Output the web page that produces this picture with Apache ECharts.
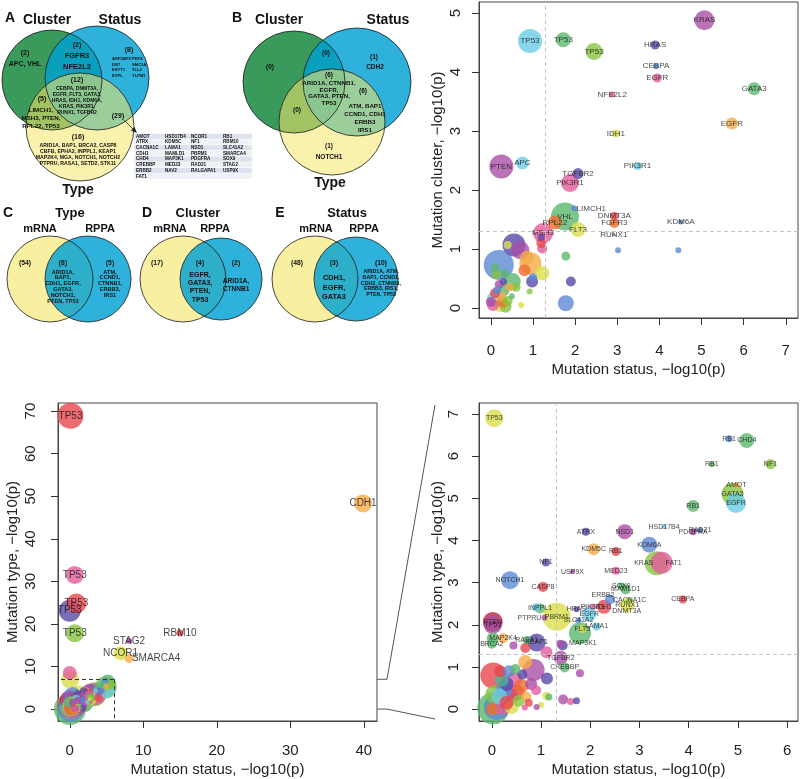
<!DOCTYPE html>
<html><head><meta charset="utf-8">
<script src="https://cdn.jsdelivr.net/npm/echarts@6.0.0/dist/echarts.min.js"></script>
<style>html,body{margin:0;padding:0;background:#fff}#c{width:800px;height:779px}</style>
</head><body><div id="c"></div>
<script>
// ---------------- DATA ----------------
// Venn A (Cluster / Status / Type)
const vennA_clusterOnly = ["APC","VHL"];
const vennA_statusOnly = ["ARFGEF2","DST","ESYT1","EVPL","PEP4","SMC3A","TLL2","YLPM1"];
const vennA_clusterStatus = ["FGFR3","NFE2L2"];
const vennA_all = ["CEBPA","DNMT3A","EGFR","FLT3","GATA3","HRAS","IDH1","KDM6A","KRAS","PIK3R1","RUNX1","TGFBR2"];
const vennA_clusterType = ["LIMCH1","MSH3","PTEN","RPL22","TP53"];
const vennA_typeOnly = ["ARID1A","BAP1","BRCA2","CASP8","CBFB","EPHA2","INPPL1","KEAP1","MAP2K4","MGA","NOTCH1","NOTCH2","PTPRU","RASA1","SETD2","STK11"];
const vennA_statusType = ["AMOT","ATRX","CACNA1C","CDH1","CHD4","CREBBP","ERBB2","FAT1",
  "HSD17B4","KDM5C","LAMA1","MAMLD1","MAP3K1","MED23","NAV2",
  "NCOR1","NF1","NSD1","PBRM1","PDGFRA","RAD21","RALGAPA1",
  "RB1","RBM10","SLC41A2","SMARCA4","SOX9","STAG2","USP9X"];
// Venn B
const vennB_clusterOnly = [];
const vennB_clusterStatus = [];
const vennB_statusOnly = ["CDH2"];
const vennB_all = ["ARID1A","CTNNB1","EGFR","GATA3","PTEN","TP53"];
const vennB_statusType = ["ATM","BAP1","CCND1","CDH1","ERBB3","IRS1"];
const vennB_clusterType = [];
const vennB_typeOnly = ["NOTCH1"];
// Venn C/D/E (mRNA vs RPPA)
const vennTitles = ["Type","Cluster","Status"];
const mrnaOnlyCounts = [54,17,48];
const vennC_both = ["ARID1A","BAP1","CDH1","EGFR","GATA3","NOTCH1","PTEN","TP53"];
const vennC_rppa = ["ATM","CCND1","CTNNB1","ERBB3","IRS1"];
const vennD_both = ["EGFR","GATA3","PTEN","TP53"];
const vennD_rppa = ["ARID1A","CTNNB1"];
const vennE_both = ["CDH1","EGFR","GATA3"];
const vennE_rppa = ["ARID1A","ATM","BAP1","CCND1","CDH2","CTNNB1","ERBB3","IRS1","PTEN","TP53"];

// Scatter: [gene, status -log10p, cluster/type -log10p, bubble size, colour group]
const clusterPoints = [
  ["KRAS",5.07,4.88,20,2],["TP53",0.93,4.53,24,5],["TP53",1.72,4.55,15,6],["TP53",2.45,4.35,17,7],
  ["HRAS",3.90,4.46,9,3],["CEBPA",3.92,4.10,6,4],["EGFR",3.95,3.90,9,1],["NFE2L2",2.88,3.62,6,1],
  ["GATA3",6.25,3.72,13,6],["EGFR",5.72,3.13,12,9],["IDH1",2.97,2.96,8,8],["PTEN",0.25,2.40,24,2],
  ["APC",0.75,2.46,13,5],["TGFBR2",2.07,2.28,11,3],["PIK3R1",1.88,2.12,18,1],["PIK3R1",3.48,2.41,8,5],
  ["LIMCH1",1.98,1.69,6,4],["VHL",1.76,1.55,28,6],["RPL22",1.52,1.45,14,10],["MSH3",1.24,1.27,20,1],
  ["FLT3",2.07,1.33,15,8],["DNMT3A",2.93,1.56,8,0],["FGFR3",2.93,1.44,10,10],["RUNX1",2.92,1.24,3,4],
  ["KDM6A",4.51,1.46,5,4],
  ["",3.02,0.98,6,4],["",4.45,0.98,6,4],["",1.78,0.88,9,6],["",1.90,0.45,10,3],["",1.78,0.08,16,4],
  ["",0.19,0.73,30,4],["",0.55,1.07,23,3],["",0.70,0.98,18,2],["",0.40,1.07,8,8],["",0.86,0.85,14,9],
  ["",0.94,0.76,22,9],["",0.80,0.64,12,10],["",1.22,0.59,14,8],["",1.22,1.01,10,1],["",1.20,1.10,10,0],
  ["",1.20,1.20,7,3],["",0.98,0.45,12,3],["",0.51,0.45,17,6],["",0.33,0.59,8,6],["",0.13,0.57,10,7],
  ["",0.92,0.28,6,7],["",0.72,0.05,6,8],["",1.00,0.52,8,4],["",0.10,0.15,16,5],["",0.22,0.05,14,8],
  ["",0.05,0.05,12,1],["",0.30,0.30,12,6],["",0.25,0.20,10,9],["",0.40,0.12,10,7],["",0.15,0.30,8,4],
  ["",0.35,0.02,12,7],["",0.50,0.20,6,6],["",0.45,0.35,8,9],["",0.20,0.40,9,2],["",0.10,0.25,10,0],
  ["",0.30,0.45,7,3],["",0.00,0.10,10,2],["",0.28,0.10,11,10],["",0.60,0.35,9,7],["",0.10,0.68,9,6]
];
const typePoints = [
  ["TP53",0.05,6.90,18,8],["RB1",4.82,6.41,7,4],["CHD4",5.18,6.37,15,6],["RB1",4.47,5.81,6,6],
  ["NF1",5.66,5.81,10,7],["AMOT",4.97,5.31,6,9],["GATA3",4.89,5.10,22,7],["EGFR",4.96,4.89,20,5],
  ["RB1",4.09,4.82,12,6],["HSD17B4",3.50,4.33,5,5],["PDGFRA",4.09,4.21,7,2],["RAD21",4.23,4.24,6,4],
  ["ATRX",1.91,4.21,8,3],["NSD1",2.70,4.21,15,2],["KDM5C",2.07,3.79,12,9],["RB1",2.52,3.74,9,0],
  ["KDM6A",3.20,3.90,16,4],["KRAS",3.35,3.46,24,7],["FAT1",3.45,3.47,22,1],["NF1",1.10,3.48,8,3],
  ["USP9X",1.64,3.26,5,2],["MED23",2.52,3.28,8,1],["NOTCH1",0.37,3.06,18,4],["CASP8",1.04,2.90,10,0],
  ["SOX9",2.63,2.92,7,6],["MAMLD1",2.72,2.84,10,6],["ERBB2",2.40,2.60,10,4],["CACNA1C",2.80,2.58,6,7],
  ["RUNX1",2.75,2.47,14,8],["DNMT3A",2.74,2.33,4,8],["CEBPA",3.88,2.60,8,0],["IDH1",2.28,2.43,14,0],
  ["PIK3R1",2.05,2.43,6,1],["HRAS",1.72,2.37,6,3],["EGFR",1.98,2.25,14,5],["SLC41A2",1.76,2.11,6,4],
  ["LAMA1",2.13,1.96,8,5],["FLT3",1.84,1.90,8,8],["MAP3K1",1.79,1.80,22,6],["PBRM1",1.32,2.19,28,8],
  ["PTPRU",1.07,2.17,6,2],["INPPL1",0.98,2.39,10,6],["",0.90,2.42,8,5],["PTEN",0.02,2.07,20,12],
  ["TP53",0.02,2.00,18,2],["MAP2K4",0.23,1.68,10,9],["",0.02,1.68,12,6],["RASA1",0.71,1.64,8,6],
  ["KEAP1",0.91,1.58,18,3],["BRCA2",0.00,1.55,10,6],
  ["",0.44,1.51,8,2],["",0.68,1.45,10,0],["",1.44,1.51,10,3],["",1.39,1.55,8,2],
  ["TGFBR2",1.40,1.22,14,2],["CREBBP",1.48,0.99,10,6],["",1.11,1.35,12,1],["",1.79,0.85,8,2],
  ["",1.45,0.23,10,2],["",1.60,0.18,7,1],["",1.72,0.20,7,3],["",1.16,0.29,7,6],["",1.11,0.31,8,8],
  ["",1.00,0.10,6,8],["",0.91,0.05,6,2],["",0.67,0.04,6,1],
  ["",0.03,0.80,26,0],["",0.85,0.93,22,2],["",1.12,0.73,12,3],["",0.68,1.12,14,9],["",0.17,0.90,12,0],
  ["",0.03,0.02,32,6],["",0.10,0.05,26,4],["",0.20,0.10,20,1],["",0.35,0.30,18,2],["",0.50,0.40,16,0],
  ["",0.30,0.60,14,3],["",0.45,0.70,16,1],["",0.60,0.55,14,10],["",0.25,0.45,16,4],["",0.55,0.20,12,7],
  ["",0.40,0.05,14,8],["",0.15,0.30,16,5],["",0.70,0.30,10,9],["",0.80,0.60,12,2],["",0.62,0.82,10,3],
  ["",0.35,0.90,12,4],["",0.05,0.35,18,7],["",0.48,0.95,10,6],["",0.20,0.70,14,11],["",0.90,0.45,10,1],
  ["",0.75,0.15,8,0],["",0.12,0.15,22,11],["",0.00,0.00,12,10],["",0.30,0.15,14,0]
];
const typeOutliers = [
  ["TP53",0.10,68.9,26,0],["CDH1",39.9,48.3,18,9],["TP53",0.68,31.5,18,1],["TP53",0.90,24.8,20,0],
  ["TP53",0.00,23.1,22,3],["TP53",0.68,17.8,18,7],["RBM10",15.0,17.9,7,0],["STAG2",8.07,16.0,6,2],
  ["NCOR1",6.90,13.1,14,8],["SMARCA4",8.07,11.9,9,9],["",0.00,8.5,14,1]
];
const xTicksCluster = [0,1,2,3,4,5,6,7];
const yTicksCluster = [0,1,2,3,4,5];
const xTicksTypeAll = [0,10,20,30,40];
const yTicksTypeAll = [0,10,20,30,40,50,60,70];
const xTicksTypeZoom = [0,1,2,3,4,5,6];
const yTicksTypeZoom = [0,1,2,3,4,5,6,7];
const sigThreshold = 1.3;
const zoomLimits = [6,7];

// ---------------- STYLE ----------------
const FONT = '"Liberation Sans", Arial, sans-serif';
const palette = ['#e8474f','#e35d9c','#a94fa8','#5a4aa8','#5b8ad6','#6ccbe3','#5cb86e','#86c441','#d9df4a','#f5ad48','#ee6e2e','#4fb394','#b8283f'];
const labelOffsets = {
  cluster: {"LIMCH1":[17,0]},
  zoom: {"KRAS":[-13,0],"FAT1":[12,0],"MAP3K1":[3,10],"PTPRU":[-15,0],"ERBB2":[-7,-4]},
  all: {"SMARCA4":[27,0]}
};

const chart = echarts.init(document.getElementById('c'), null, {renderer:'canvas'});

function bubbles(points, gi, fontSize, showLabels, offs){
  const arr = points.slice().sort((a,b)=>b[3]-a[3]);
  return {
    type:'scatter', xAxisIndex:gi, yAxisIndex:gi, symbolSize:v=>v[2], animation:false,
    emphasis:{disabled:true}, silent:true,
    itemStyle:{opacity:0.8},
    label:{formatter:'{b}', fontSize:fontSize, color:'#151515', fontFamily:FONT},
    data: arr.map(p=>({name:p[0], value:[p[1],p[2],p[3]], itemStyle:{color:palette[p[4]]},
      label:{show: showLabels && p[0]!=='', position:'inside', offset:(offs&&offs[p[0]])||[0,0]}}))
  };
}
function xAx(gi,min,max,ticks,margin,gap){
  return {gridIndex:gi,type:'value',min,max,
    axisLine:{show:true,onZero:false,lineStyle:{color:'#444',width:1}},splitLine:{show:false},
    axisTick:{show:true,inside:false,customValues:ticks,length:7,lineStyle:{color:'#333',width:1}},
    axisLabel:{customValues:ticks,fontSize:15,color:'#222',fontFamily:FONT,margin:margin},
    name:'Mutation status, \u2212log10(p)',nameLocation:'middle',nameGap:gap,
    nameTextStyle:{fontSize:15,color:'#222',fontFamily:FONT}};
}
function yAx(gi,min,max,ticks,margin,gap,name){
  return {gridIndex:gi,type:'value',min,max,
    axisLine:{show:true,onZero:false,lineStyle:{color:'#444',width:1}},splitLine:{show:false},
    axisTick:{show:true,inside:false,customValues:ticks,length:7,lineStyle:{color:'#333',width:1}},
    axisLabel:{customValues:ticks,fontSize:15,color:'#222',fontFamily:FONT,margin:margin,rotate:90},
    name:name,nameLocation:'middle',nameGap:gap,
    nameTextStyle:{fontSize:15,color:'#222',fontFamily:FONT}};
}
const gridBase = {show:true,borderColor:'#444',borderWidth:1,containLabel:false};
const refLines = {silent:true,symbol:'none',animation:false,label:{show:false},
  lineStyle:{type:[4,3],color:'#c4c4c4',width:1},
  data:[{xAxis:sigThreshold},{yAxis:sigThreshold}]};

const sClusterSeries = bubbles(clusterPoints,0,8,true,labelOffsets.cluster);
sClusterSeries.markLine = refLines;
const sAllMain = bubbles(typePoints,1,10,false,null);
const sAllOut = bubbles(typeOutliers,1,10,true,labelOffsets.all);
sAllOut.markLine = {silent:true,symbol:'none',animation:false,label:{show:false},
  lineStyle:{type:[4,3],color:'#333',width:1},
  data:[[{coord:[-1.2,zoomLimits[1]]},{coord:[zoomLimits[0],zoomLimits[1]]}],
        [{coord:[zoomLimits[0],zoomLimits[1]]},{coord:[zoomLimits[0],-2.8]}]]};
const sZoom = bubbles(typePoints,2,7,true,labelOffsets.zoom);
sZoom.markLine = refLines;

const option = {
  animation:false,
  grid:[
    Object.assign({left:479,top:2,width:319,height:316},gridBase),
    Object.assign({left:58,top:403,width:319,height:318},gridBase),
    Object.assign({left:479,top:403,width:319,height:318},gridBase)
  ],
  xAxis:[
    xAx(0,-0.28,7.29,xTicksCluster,25,44),
    xAx(1,-1.6,41.8,xTicksTypeAll,22,41),
    xAx(2,-0.26,6.22,xTicksTypeZoom,22,41)
  ],
  yAxis:[
    yAx(0,-0.17,5.19,yTicksCluster,16,34,'Mutation cluster, \u2212log10(p)'),
    yAx(1,-2.8,71.9,yTicksTypeAll,20,38,'Mutation type, \u2212log10(p)'),
    yAx(2,-0.28,7.26,yTicksTypeZoom,18,31,'Mutation type, \u2212log10(p)')
  ],
  series:[sClusterSeries,sAllMain,sAllOut,sZoom]
};
chart.setOption(option);

// ---------------- VENN DIAGRAMS (graphic) ----------------
const G = [];
function txt(x,y,s,size,bold,align){
  G.push({type:'text',x:x,y:y,silent:true,z:10,style:{text:s,font:(bold?'bold ':'')+size+'px '+FONT,fill:'#111',align:align||'center',verticalAlign:'middle'}});
}
function disc(cx,cy,r,fill,op){ G.push({type:'circle',silent:true,shape:{cx,cy,r},style:{fill:fill,opacity:op}}); }
function ring(cx,cy,r){ G.push({type:'circle',silent:true,z:5,shape:{cx,cy,r},style:{fill:'none',stroke:'#1a1a1a',lineWidth:0.8}}); }
function chunk(list,sizes,comma){
  const out=[];let i=0;
  sizes.forEach((n,k)=>{const part=list.slice(i,i+n);i+=n;out.push(part.join(', ')+(comma&&k<sizes.length-1?',':''));});
  return out;
}
function block(x,y0,step,lines,size){ lines.forEach((l,k)=>txt(x,y0+k*step,l,size,true)); }
const GREEN='#3a9a5c', BLUE='#00a0d2', YEL='#f5e56a', YEL_SOLID='#f8f0a0';

// Panel A
disc(52,80,50,GREEN,1); disc(97,78,52,BLUE,0.82); disc(80,127,54,YEL,0.55);
ring(52,80,50); ring(97,78,52); ring(80,127,54);
txt(10,18,'A',14,true); txt(47,20,'Cluster',14,true); txt(120,20,'Status',14,true); txt(78,190,'Type',14,true);
txt(25,53,'('+vennA_clusterOnly.length+')',7,true); txt(25,64,vennA_clusterOnly.join(', '),7,true);
txt(77,45,'('+vennA_clusterStatus.length+')',7,true); block(77,56,11,vennA_clusterStatus,7.5);
txt(129,50,'('+vennA_statusOnly.length+')',7,true);
for(let k=0;k<4;k++){ txt(112,59+k*5.6,vennA_statusOnly[k],4.1,true,'left'); txt(132,59+k*5.6,vennA_statusOnly[k+4],4.1,true,'left'); }
txt(77,80,'('+vennA_all.length+')',7,true); block(77,89,5.8,chunk(vennA_all,[2,3,3,2,2],true),5);
txt(42,99,'('+vennA_clusterType.length+')',7,true); block(41,110,8,chunk(vennA_clusterType,[1,2,2],true),6.2);
txt(118,116,'('+vennA_statusType.length+')',7,true);
txt(78,137,'('+vennA_typeOnly.length+')',7,true); block(78,146,5.8,chunk(vennA_typeOnly,[4,4,4,4],false),5.2);
// arrow
G.push({type:'line',silent:true,z:6,shape:{x1:124,y1:120,x2:134,y2:130},style:{stroke:'#222',lineWidth:0.8}});
G.push({type:'polygon',silent:true,z:6,shape:{points:[[137,133],[131,130.5],[134.5,127]]},style:{fill:'#222'}});
// table of 29
(function(){
  const colSizes=[8,7,7,7], colX=[136,165,191,223], x0=134, w=118, y0=133.5, rh=5.7;
  for(let r=0;r<8;r++) G.push({type:'rect',silent:true,shape:{x:x0,y:y0+r*rh,width:w,height:rh},style:{fill:r%2?'#eef1f6':'#dde3ee',stroke:'#fff',lineWidth:0.4}});
  let i=0;
  colSizes.forEach((n,c)=>{for(let r=0;r<n;r++){txt(colX[c],y0+r*rh+rh/2,vennA_statusType[i++],4.6,true,'left');}});
})();

// Panel B
disc(294,82,51,GREEN,1); disc(357,82,54,BLUE,0.82); disc(332,122,53,YEL,0.55);
ring(294,82,51); ring(357,82,54); ring(332,122,53);
txt(237,18,'B',14,true); txt(279,20,'Cluster',14,true); txt(388,20,'Status',14,true); txt(330,183,'Type',14,true);
txt(270,67,'('+vennB_clusterOnly.length+')',6.5,true);
txt(326,53,'('+vennB_clusterStatus.length+')',6.5,true);
txt(374,57,'('+vennB_statusOnly.length+')',6.5,true); txt(375,67,vennB_statusOnly.join(', '),6.5,true);
txt(329,75,'('+vennB_all.length+')',6.5,true); block(329,83,6.8,chunk(vennB_all,[2,1,2,1],true),6.2);
txt(363,91,'('+vennB_statusType.length+')',6.5,true); block(365,106,8,chunk(vennB_statusType,[2,2,1,1],false),6.2);
txt(297,110,'('+vennB_clusterType.length+')',6.5,true);
txt(329,146,'('+vennB_typeOnly.length+')',6.5,true); txt(329,157,vennB_typeOnly.join(', '),6.5,true);

// Panels C, D, E
const cde = [
  {L:'C',lx:8,tx:70,yc:50,bc:88,rb:43,mx:40,rx:100,cm:25,cb:63,cr:110,both:vennC_both,bch:[1,1,2,1,1,2],bs:5.8,bf:5.6,by:272,rp:vennC_rppa,rch:[1,1,1,1,1],rs:5.8,rf:5.6,ry:272},
  {L:'D',lx:147,tx:198,yc:183,bc:221,rb:41,mx:170,rx:215,cm:157,cb:200,cr:236,both:vennD_both,bch:[1,1,1,1],bs:8.2,bf:7,by:275,rp:vennD_rppa,rch:[1,1],rs:8,rf:6.6,ry:281},
  {L:'E',lx:280,tx:347,yc:315,bc:356,rb:42,mx:316,rx:364,cm:297,cb:334,cr:381,both:vennE_both,bch:[1,1,1],bs:9.5,bf:7.4,by:278,rp:vennE_rppa,rch:[2,2,2,2,2],rs:5.6,rf:5.3,ry:272}
];
cde.forEach((p,k)=>{
  disc(p.yc,279,43,YEL_SOLID,1); disc(p.bc,279,p.rb,BLUE,0.82);
  ring(p.yc,279,43); ring(p.bc,279,p.rb);
  txt(p.lx,213,p.L,14,true); txt(p.tx,213,vennTitles[k],13,true);
  txt(p.mx,229,'mRNA',11,true); txt(p.rx,229,'RPPA',11,true);
  txt(p.cm,263,'('+mrnaOnlyCounts[k]+')',6.8,true);
  txt(p.cb,263,'('+p.both.length+')',6.8,true);
  txt(p.cr,263,'('+p.rp.length+')',6.8,true);
  block(p.cb,p.by,p.bs,chunk(p.both,p.bch,true),p.bf);
  block(p.cr,p.ry,p.rs,chunk(p.rp,p.rch,true),p.rf);
});

// zoom connector lines between bottom panels
(function(){
  const a = chart.convertToPixel({gridIndex:1},[41.8,zoomLimits[1]]);
  const b = chart.convertToPixel({gridIndex:1},[41.8,0]);
  const top = chart.convertToPixel({gridIndex:2},[-0.26,7.26]);
  const bot = chart.convertToPixel({gridIndex:2},[-0.26,-0.28]);
  G.push({type:'polyline',silent:true,shape:{points:[[a[0],a[1]],[a[0]+10,a[1]],[top[0]-44,top[1]+2]]},style:{stroke:'#555',lineWidth:1,fill:null}});
  G.push({type:'polyline',silent:true,shape:{points:[[b[0],b[1]],[b[0]+10,b[1]],[bot[0]-44,bot[1]-2]]},style:{stroke:'#555',lineWidth:1,fill:null}});
})();

chart.setOption({graphic:{elements:G}});
</script></body></html>
